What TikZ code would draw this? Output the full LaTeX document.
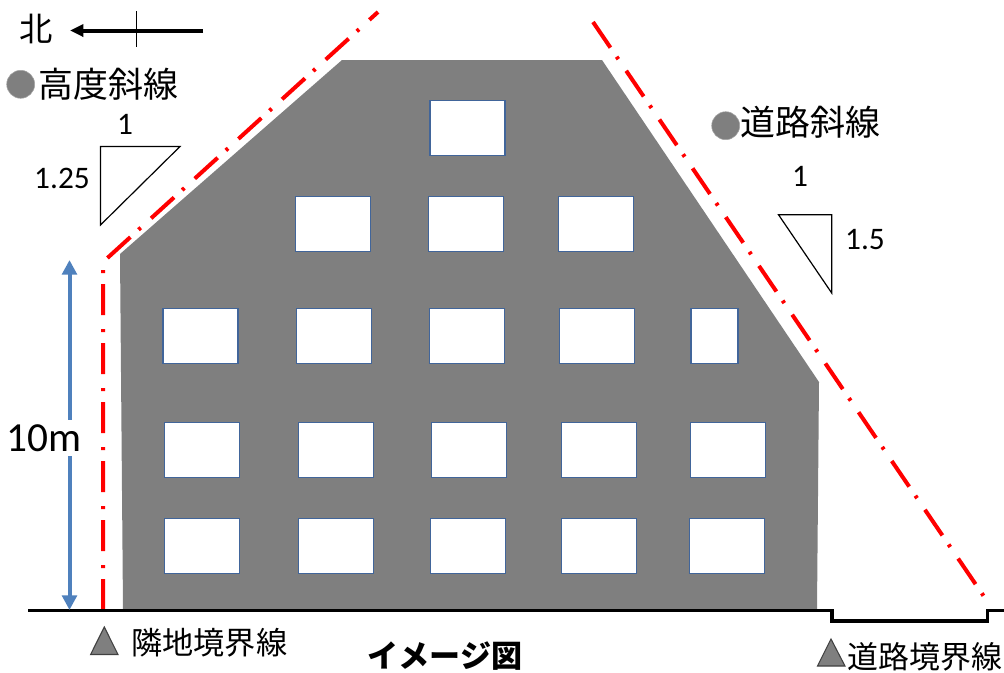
\documentclass[tikz,border=0pt]{standalone}
\usepackage{fontspec}
\setmainfont{Carlito}
\newfontfamily\jpfont{Noto Sans CJK JP}
\usetikzlibrary{arrows.meta}
\definecolor{wallgray}{HTML}{7F7F7F}
\definecolor{winblue}{HTML}{41659A}
\definecolor{dimblue}{HTML}{4F81BD}
\begin{document}
\begin{tikzpicture}[
    x=0.75pt, y=-0.75pt,
    win/.style={draw=winblue, line width=1.2pt, fill=white, minimum width=56.5pt, minimum height=41.5pt, inner sep=0pt},
    slant/.style={red, line width=3pt, dash pattern=on 23.25pt off 8.25pt on 2.25pt off 10.5pt},
    jp/.style={inner sep=0pt, font=\jpfont\fontsize{26.2pt}{28pt}\selectfont},
    num/.style={inner sep=0pt, font=\fontsize{23.5pt}{24pt}\selectfont},
    ratio/.style={draw=black, line width=0.9pt, line join=miter},
    greydot/.style={circle, fill=wallgray, draw=wallgray!70, line width=0.4pt, minimum size=21pt, inner sep=0pt},
    tri/.style={draw=black!75, fill=wallgray, line width=0.8pt, line join=miter}
]
    \useasboundingbox (0,0) rectangle (1004,672);

    % Building
    \fill[wallgray] (342,60) -- (602,60) -- (819,382) -- (817,609) -- (123,609) -- (120,254) -- cycle;

    % Windows
    \foreach \nm/\cx/\cy in {a/467.5/128,
        b/333/224, c/466/224, d/596/224,
        e/200.5/336, f/334/336, g/467/336, h/597/336,
        j/202/450, k/336/450, l/469/450, m/599/450, n/728/450,
        o/202/546, p/336/546, q/468/546, r/599/546, s/727/546}
        \node[win] (\nm) at (\cx,\cy) {};
    \node[win, minimum width=35pt] (t) at (714.5,336) {};

    % Setback lines
    \coordinate (northfoot) at (103,610);
    \coordinate (northbend) at (103,262);
    \coordinate (northtop) at (378,12);
    \coordinate (roadtop) at (593,22);
    \coordinate (roadfoot) at (985,598);
    \draw[slant] (northfoot) -- (northbend) -- (northtop);
    \draw[slant] (roadtop) -- (roadfoot);

    % Ground
    \coordinate (groundleft) at (28,610.5);
    \coordinate (curbleft) at (832,610.5);
    \coordinate (curbright) at (987.5,610.5);
    \coordinate (groundright) at (1004,610.5);
    \draw[black, line width=2.7pt, line join=miter] (groundleft) -- (curbleft) -- ++(0,10.5) -| (curbright) -- (groundright);

    % Height
    \coordinate (dimtop) at (69.5,260);
    \coordinate (dimfoot) at (69.5,610);
    \draw[{Triangle[width=11pt,length=11pt]}-{Triangle[width=11pt,length=11pt]}, dimblue, line width=3pt] (dimtop) -- (dimfoot);
    \node[num, fill=white, inner ysep=3pt, font=\fontsize{31pt}{32pt}\selectfont] (height) at (44,438) {10m};

    % North
    \coordinate (arrowtail) at (203,30.5);
    \coordinate (arrowhead) at (70,30.5);
    \coordinate (ticktop) at (136,11);
    \coordinate (tickfoot) at (136,47);
    \draw[-{Triangle[width=9pt,length=10pt]}, line width=3pt] (arrowtail) -- (arrowhead);
    \draw[black, line width=0.7pt] (ticktop) -- (tickfoot);
    \node[jp, font=\jpfont\fontsize{25pt}{26pt}\selectfont] (north) at (36,29) {北};

    % Left slope
    \node[greydot] (leftdot) at (20.7,84.3) {};
    \node[jp, anchor=west] (leftname) at (38.5,84) {高度斜線};
    \node[num] (leftrun) at (125,124) {1};
    \node[num] (leftrise) at (62,178) {1.25};
    \draw[ratio] (100.5,146.5) coordinate (la) -- (180,146.5) coordinate (lb) -- (100.5,225) coordinate (lc) -- cycle;

    % Right slope
    \node[greydot] (rightdot) at (725.7,125.7) {};
    \node[jp, anchor=west] (rightname) at (740,122) {道路斜線};
    \node[num] (rightrun) at (800,176) {1};
    \node[num] (rightrise) at (865,240) {1.5};
    \draw[ratio] (778.5,214.7) coordinate (ra) -- (831.7,214.7) coordinate (rb) -- (831.7,293) coordinate (rc) -- cycle;

    % Boundaries
    \draw[tri] (104.3,627) -- (118,654.5) -- (90.6,654.5) -- cycle;
    \node[jp, anchor=west, font=\jpfont\fontsize{23.4pt}{24pt}\selectfont] (siteline) at (131,643) {隣地境界線};
    \draw[tri] (831,639) -- (845,666) -- (817.5,666) -- cycle;
    \node[jp, anchor=west, font=\jpfont\fontsize{23.2pt}{24pt}\selectfont] (roadline) at (847,656.5) {道路境界線};

    % Caption
    \node[jp, font=\jpfont\bfseries\fontsize{23.3pt}{24pt}\selectfont] (caption) at (445,656.5) {イメージ図};
\end{tikzpicture}
\end{document}
